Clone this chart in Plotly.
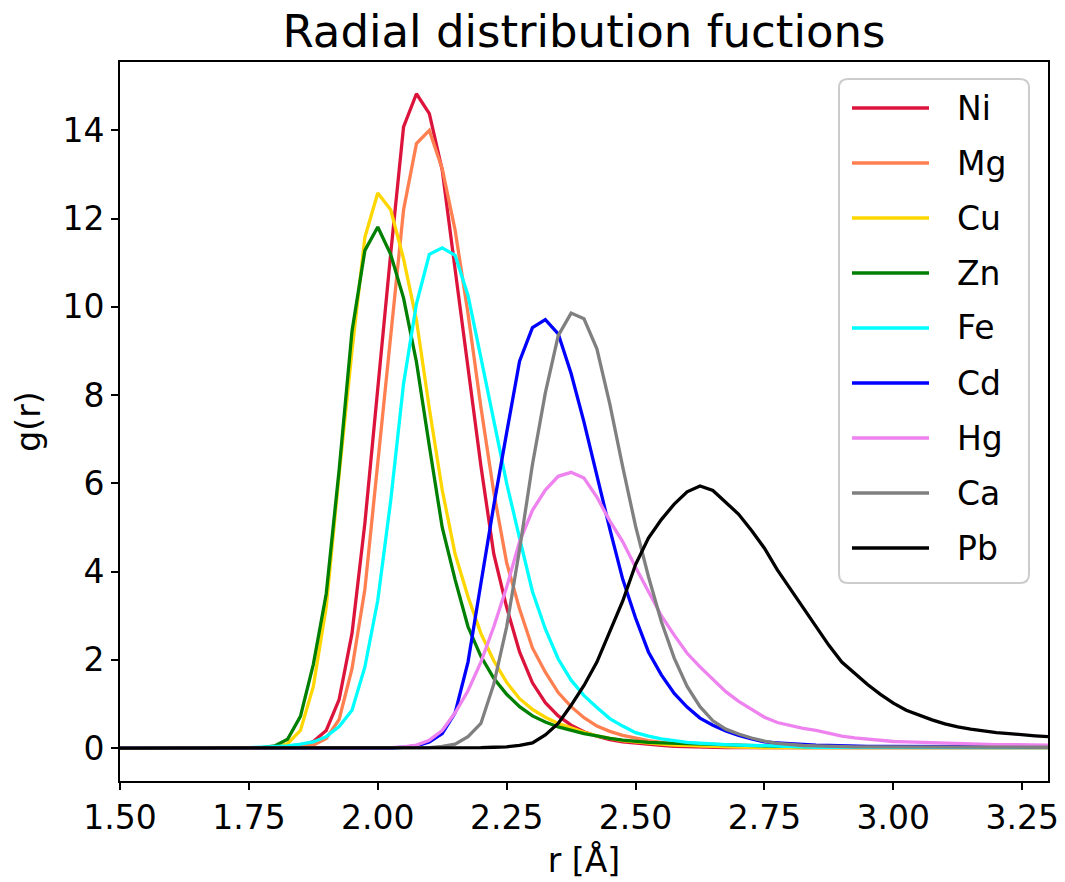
import plotly.graph_objects as go

# ---------------- data ----------------
r = [1.500, 1.525, 1.550, 1.575, 1.600, 1.625, 1.650, 1.675, 1.700, 1.725,
     1.750, 1.775, 1.800, 1.825, 1.850, 1.875, 1.900, 1.925, 1.950, 1.975,
     2.000, 2.025, 2.050, 2.075, 2.100, 2.125, 2.150, 2.175, 2.200, 2.225,
     2.250, 2.275, 2.300, 2.325, 2.350, 2.375, 2.400, 2.425, 2.450, 2.475,
     2.500, 2.525, 2.550, 2.575, 2.600, 2.625, 2.650, 2.675, 2.700, 2.725,
     2.750, 2.775, 2.800, 2.825, 2.850, 2.875, 2.900, 2.925, 2.950, 2.975,
     3.000, 3.025, 3.050, 3.075, 3.100, 3.125, 3.150, 3.175, 3.200, 3.225,
     3.250, 3.275, 3.300]

names = ["Ni", "Mg", "Cu", "Zn", "Fe", "Cd", "Hg", "Ca", "Pb"]
colors = ["crimson", "coral", "gold", "green", "cyan", "blue", "violet", "gray", "black"]

g_ni = [0, 0, 0, 0, 0, 0, 0, 0, 0, 0, 0, 0,
        0.01, 0.02, 0.06, 0.15, 0.40, 1.10, 2.60, 5.10,
        8.25, 11.20, 14.08, 14.83, 14.38, 13.10, 10.85, 8.65, 6.40, 4.40,
        3.19, 2.18, 1.48, 1.03, 0.73, 0.52, 0.37, 0.27, 0.19, 0.14,
        0.11, 0.08, 0.06, 0.04, 0.03, 0.02, 0.01, 0.01, 0.01, 0.01,
        0.01, 0.01, 0.01, 0.01, 0.01, 0.01, 0.01, 0.01, 0.01, 0.01,
        0.01, 0.01, 0.01, 0.01, 0.01, 0.01, 0.01, 0.01, 0.01, 0.01,
        0.01, 0.01, 0.01]

g_mg = [0, 0, 0, 0, 0, 0, 0, 0, 0, 0, 0, 0,
        0.01, 0.02, 0.03, 0.07, 0.22, 0.65, 1.80, 3.60,
        6.50, 9.30, 12.20, 13.70, 14.00, 13.13, 11.74, 9.85, 7.73, 5.80,
        4.20, 3.15, 2.27, 1.72, 1.26, 0.94, 0.69, 0.50, 0.38, 0.29,
        0.23, 0.17, 0.13, 0.09, 0.07, 0.05, 0.04, 0.03, 0.02, 0.01,
        0.01, 0.01, 0.01, 0.01, 0.01, 0.01, 0.01, 0.01, 0.01, 0.01,
        0.01, 0.01, 0.01, 0.01, 0.01, 0.01, 0.01, 0.01, 0.01, 0.01,
        0.01, 0.01, 0.01]

g_cu = [0, 0, 0, 0, 0, 0, 0, 0, 0, 0, 0, 0,
        0.02, 0.10, 0.40, 1.40, 3.20, 6.20, 9.00, 11.58,
        12.58, 12.20, 11.09, 9.70, 7.70, 5.85, 4.40, 3.43, 2.60, 1.98,
        1.49, 1.12, 0.88, 0.70, 0.56, 0.45, 0.36, 0.28, 0.22, 0.17,
        0.14, 0.11, 0.09, 0.07, 0.06, 0.05, 0.04, 0.03, 0.02, 0.02,
        0.01, 0.01, 0.01, 0.01, 0.01, 0.01, 0.01, 0.01, 0.01, 0.01,
        0.01, 0.01, 0.01, 0.01, 0.01, 0.01, 0.01, 0.01, 0.01, 0.01,
        0.01, 0.01, 0.01]

g_zn = [0, 0, 0, 0, 0, 0, 0, 0, 0, 0, 0, 0.01,
        0.05, 0.20, 0.72, 1.90, 3.50, 6.30, 9.45, 11.28,
        11.81, 11.19, 10.20, 8.75, 6.85, 5.00, 3.82, 2.75, 2.08, 1.58,
        1.22, 0.94, 0.73, 0.59, 0.48, 0.41, 0.33, 0.28, 0.22, 0.18,
        0.15, 0.13, 0.12, 0.11, 0.10, 0.09, 0.08, 0.07, 0.06, 0.05,
        0.05, 0.04, 0.04, 0.03, 0.03, 0.03, 0.02, 0.02, 0.02, 0.02,
        0.02, 0.02, 0.02, 0.02, 0.02, 0.02, 0.02, 0.02, 0.02, 0.02,
        0.02, 0.02, 0.02]

g_fe = [0, 0, 0, 0, 0, 0, 0, 0, 0, 0,
        0.01, 0.02, 0.03, 0.05, 0.09, 0.14, 0.26, 0.49, 0.86, 1.84,
        3.35, 5.60, 8.26, 10.07, 11.19, 11.34, 11.17, 10.26, 8.85, 7.45,
        6.00, 4.76, 3.55, 2.70, 2.02, 1.54, 1.19, 0.92, 0.67, 0.50,
        0.35, 0.27, 0.21, 0.17, 0.13, 0.11, 0.09, 0.08, 0.07, 0.06,
        0.05, 0.04, 0.03, 0.03, 0.02, 0.02, 0.02, 0.02, 0.02, 0.02,
        0.01, 0.01, 0.01, 0.01, 0.01, 0.01, 0.01, 0.01, 0.01, 0.01,
        0.01, 0.01, 0.01]

g_cd = [0, 0, 0, 0, 0, 0, 0, 0, 0, 0,
        0, 0, 0, 0, 0, 0, 0, 0, 0, 0, 0, 0,
        0.02, 0.05, 0.14, 0.33, 0.80, 1.95, 3.73, 5.50,
        7.15, 8.77, 9.53, 9.71, 9.39, 8.49, 7.39, 6.17, 4.97, 3.83,
        2.95, 2.18, 1.66, 1.24, 0.93, 0.68, 0.52, 0.39, 0.29, 0.21,
        0.14, 0.12, 0.10, 0.08, 0.07, 0.06, 0.05, 0.05, 0.04, 0.04,
        0.04, 0.03, 0.03, 0.03, 0.03, 0.03, 0.03, 0.03, 0.03, 0.03,
        0.03, 0.03, 0.03]

g_hg = [0, 0, 0, 0, 0, 0, 0, 0, 0, 0,
        0, 0, 0, 0, 0, 0, 0, 0, 0, 0, 0, 0.01,
        0.03, 0.07, 0.18, 0.40, 0.80, 1.30, 1.95, 2.75,
        3.65, 4.68, 5.39, 5.85, 6.16, 6.25, 6.12, 5.69, 5.15, 4.68,
        4.10, 3.55, 3.00, 2.56, 2.15, 1.84, 1.55, 1.28, 1.06, 0.87,
        0.70, 0.58, 0.51, 0.45, 0.40, 0.34, 0.27, 0.23, 0.20, 0.18,
        0.15, 0.14, 0.13, 0.12, 0.11, 0.10, 0.10, 0.09, 0.08, 0.08,
        0.08, 0.07, 0.07]

g_ca = [0, 0, 0, 0, 0, 0, 0, 0, 0, 0,
        0, 0, 0, 0, 0, 0, 0, 0, 0, 0,
        0, 0, 0, 0, 0.01,
        0.04, 0.09, 0.26, 0.56, 1.45,
        2.75, 4.50, 6.43, 8.05, 9.35, 9.86, 9.73, 9.05, 7.80, 6.38,
        5.03, 3.89, 2.87, 2.04, 1.40, 0.94, 0.62, 0.43, 0.32, 0.23,
        0.16, 0.11, 0.08, 0.06, 0.05, 0.04, 0.04, 0.03, 0.03, 0.03,
        0.02, 0.02, 0.02, 0.02, 0.02, 0.02, 0.02, 0.02, 0.02, 0.02,
        0.02, 0.02, 0.02]

g_pb = [0, 0, 0, 0, 0, 0, 0, 0, 0, 0,
        0, 0, 0, 0, 0, 0, 0, 0, 0, 0,
        0, 0, 0, 0, 0, 0, 0, 0,
        0.01, 0.02,
        0.03, 0.06, 0.12, 0.30, 0.56, 0.97, 1.42, 1.95, 2.62, 3.33,
        4.16, 4.76, 5.18, 5.53, 5.81, 5.94, 5.84, 5.58, 5.30, 4.93,
        4.53, 4.04, 3.62, 3.20, 2.77, 2.33, 1.95, 1.69, 1.44, 1.22,
        1.02, 0.86, 0.74, 0.64, 0.55, 0.48, 0.43, 0.39, 0.35, 0.33,
        0.30, 0.28, 0.26]

series = [g_ni, g_mg, g_cu, g_zn, g_fe, g_cd, g_hg, g_ca, g_pb]

x_ticks = [1.50, 1.75, 2.00, 2.25, 2.50, 2.75, 3.00, 3.25]
y_ticks = [0, 2, 4, 6, 8, 10, 12, 14]

# ---------------- layout constants (pixels) ----------------
W, H = 1065, 882
L, R, T, B = 120, 1048, 62, 781
FONT = "DejaVu Sans"


def px(x, y):
    return (x - L) / (R - L), (B - y) / (B - T)


fig = go.Figure()
for name, color, g in zip(names, colors, series):
    fig.add_trace(go.Scatter(x=r[:len(g)], y=g, mode="lines", name=name,
                             line=dict(color=color, width=3.3),
                             showlegend=False))

# ---------------- legend drawn as in matplotlib ----------------
bx0, bx1, by0, by1 = 839, 1029, 79, 583
rad = 9
rx, ry = rad / (R - L), rad / (B - T)
X0, Y0 = px(bx0, by1)
X1, Y1 = px(bx1, by0)
path = (f"M {X0+rx},{Y0} L {X1-rx},{Y0} Q {X1},{Y0} {X1},{Y0+ry} "
        f"L {X1},{Y1-ry} Q {X1},{Y1} {X1-rx},{Y1} "
        f"L {X0+rx},{Y1} Q {X0},{Y1} {X0},{Y1-ry} "
        f"L {X0},{Y0+ry} Q {X0},{Y0} {X0+rx},{Y0} Z")
shapes = [dict(type="path", path=path, xref="paper", yref="paper",
               fillcolor="rgba(255,255,255,0.8)",
               line=dict(color="#cccccc", width=2), layer="above")]
annotations = []
first_y, step = 108, 55.0
for i, (name, color) in enumerate(zip(names, colors)):
    yy = first_y + i * step
    xa, ya = px(852, yy)
    xb, _ = px(929, yy)
    shapes.append(dict(type="line", xref="paper", yref="paper",
                       x0=xa, x1=xb, y0=ya, y1=ya,
                       line=dict(color=color, width=3.3), layer="above"))
    xt, _ = px(955, yy)
    annotations.append(dict(text=name, xref="paper", yref="paper",
                            x=xt, y=ya, xanchor="left", yanchor="middle",
                            showarrow=False,
                            font=dict(family=FONT, size=33, color="black")))

axis_common = dict(showline=True, linecolor="black", linewidth=1.6, mirror=True,
                   ticks="outside", ticklen=7, tickwidth=1.6, tickcolor="black",
                   showgrid=False, zeroline=False, automargin=False,
                   tickfont=dict(family=FONT, size=33, color="black"))

fig.update_layout(
    width=W, height=H,
    margin=dict(l=L, r=W - R, t=T, b=H - B, pad=0),
    plot_bgcolor="white", paper_bgcolor="white",
    font=dict(family=FONT, size=33, color="black"),
    title=dict(text="Radial distribution fuctions", x=0.5, xref="paper",
               xanchor="center", y=1 - 31 / H, yref="container",
               yanchor="middle", font=dict(family=FONT, size=45, color="black")),
    xaxis=dict(range=[1.5, 3.3], tickvals=x_ticks,
               ticktext=[f"{v:.2f}" for v in x_ticks],
               title=dict(text="r [Å]", standoff=12,
                          font=dict(family=FONT, size=33, color="black")),
               **axis_common),
    yaxis=dict(range=[-0.745, 15.55], tickvals=y_ticks,
               ticktext=[str(v) for v in y_ticks],
               title=dict(text="g(r)", standoff=12,
                          font=dict(family=FONT, size=33, color="black")),
               **axis_common),
    shapes=shapes,
    annotations=annotations,
)

fig.write_html("out.html",
               config={"displayModeBar": False},
               post_script="document.body.style.margin='0px';"
                           "document.body.style.overflow='hidden';")
